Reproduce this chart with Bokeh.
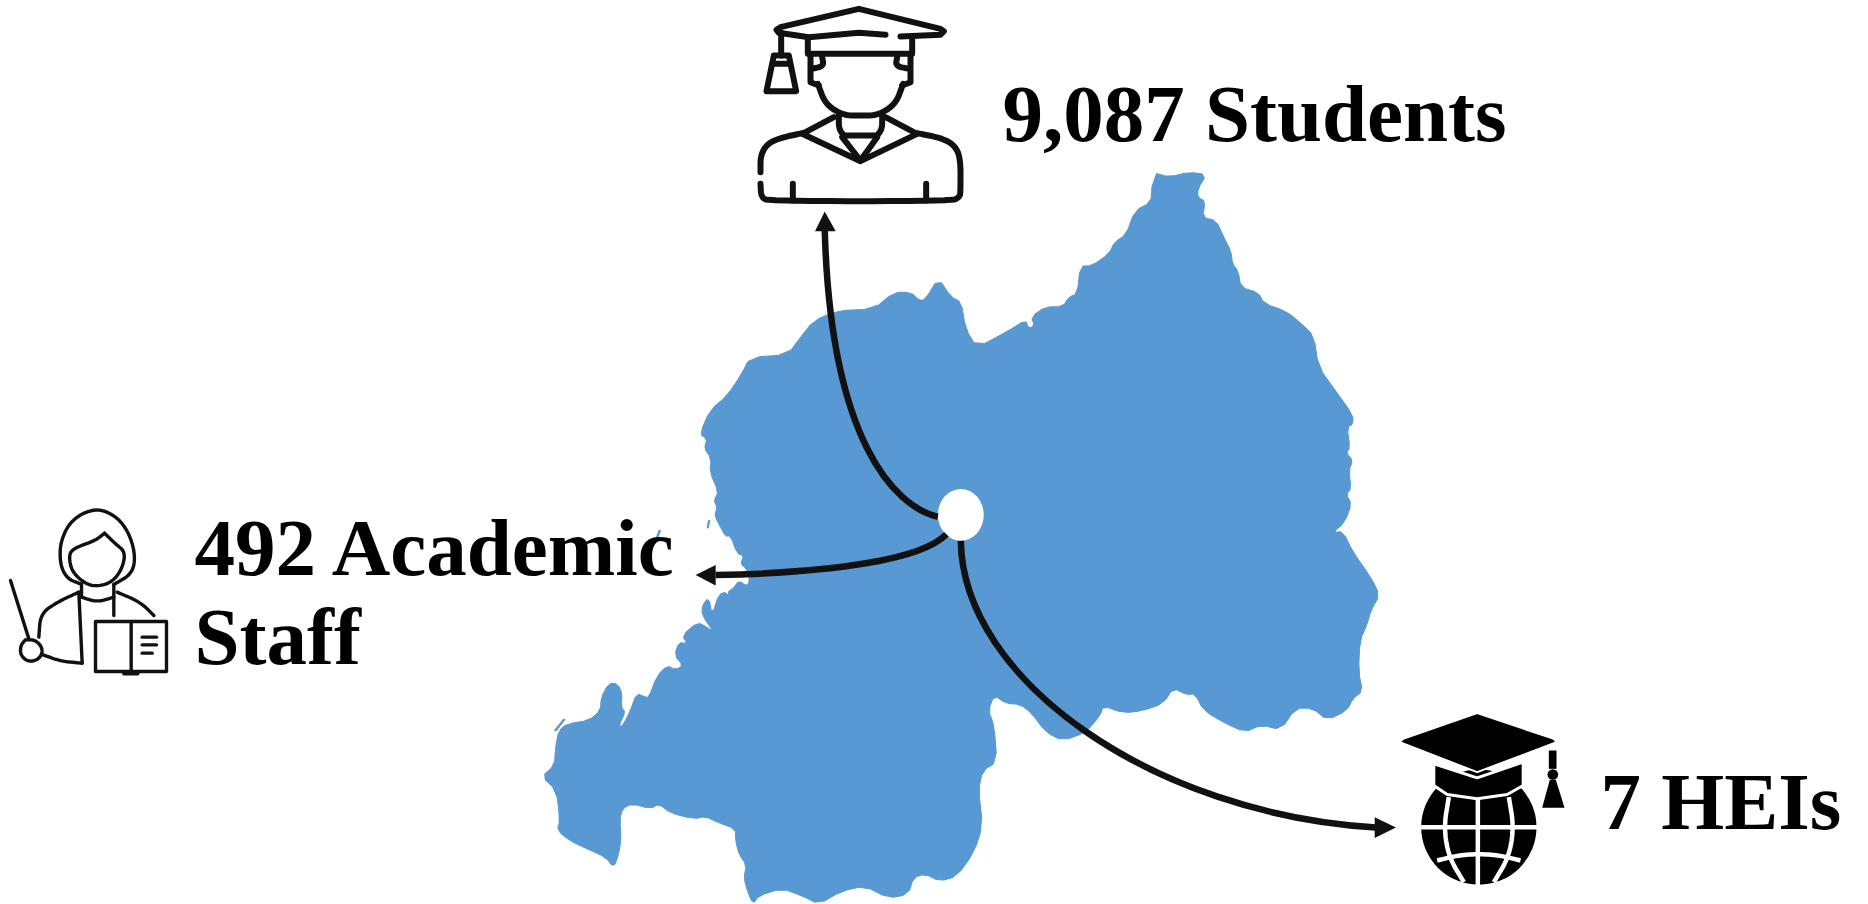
from bokeh.plotting import figure
from bokeh.models import Range1d
from bokeh.core.properties import value
from bokeh.embed import file_html
from bokeh.resources import INLINE

# ---- labels
label_text = ["9,087 Students", "492 Academic", "Staff", "7 HEIs"]
label_x = [1002, 194, 194, 1600]
label_y = [140, 574, 663, 828]

# ---- country outline
map_a_zx = [1108,1130,1165,1195,1180,1180,1193,1188,1212,1225,1238,1240,1250,1255,1285,1295,1335,1360,1382,1390,1420,1450,1450,1440,1445,1438,1450,1443,1447,1438,1448,1435,1415,1433,1450,1480,1497,1482,1475,1462,1460,1467,1450,1440,1405,1380,1350,1325,1290,1262,1225,1190,1175,1160,1137,1120,1085,1050,1015,1010,985,945,915,890,870,845,825,815,825,830,805,798,805,790,760,730,705,685,675,640,600,560,520,490,455,415,405]
map_a_zy = [48,55,45,50,80,98,105,140,145,180,210,235,250,285,295,318,335,360,385,450,500,550,570,575,620,628,645,665,705,715,735,775,795,792,835,885,925,955,985,1020,1085,1125,1140,1165,1185,1160,1160,1205,1195,1210,1190,1165,1130,1132,1118,1150,1165,1170,1155,1175,1210,1228,1210,1170,1152,1150,1133,1165,1195,1272,1290,1330,1405,1460,1510,1520,1505,1512,1548,1555,1530,1540,1568,1550,1535,1550,1568]
map_b_zx = [345,330,332,320,325,312,330,360,385,400,465,490,510,550,615,650,680,695,705,728,750,768,775,795,850,880,885,895,890,915,945,955,970,975,995,1025,1035,1055,1070,1098,1100]
map_b_zy = [710,670,640,620,600,590,540,510,465,430,425,385,355,333,330,295,295,312,310,265,305,315,370,410,375,352,370,365,345,325,325,305,298,240,240,215,190,175,125,108,75]
map_zoom_origin = (520, 150)
map_zoom_scale = (1.742, 2.08)

# west shore from the closer 3x crop
shore_origin = (530, 500)
shore_zx = [650,640,648,625,615,615,560,525,490,420,385,360,305,275,268,272,265,250,225,170,120,80,88,78,33,72,75,85,110,175,210,212,235,262,275,272,285,265,275,300,318,345,355,380,410,435,458,432,445,470,455,500,530,550,515,515,535,545,565,590,605,590,610,625,650,658,648,630,640,620,600,585,570,552,560,550]
shore_zy = [1170,1130,1095,1060,1020,985,965,948,955,938,910,925,910,925,960,1010,1060,1102,1070,1045,1022,990,960,870,828,795,740,690,670,660,630,590,548,550,580,620,635,675,678,630,578,590,590,525,495,508,495,465,425,430,405,365,380,395,345,315,290,345,280,275,310,275,262,240,258,235,205,190,165,160,105,108,80,45,20,0]
islet_zx = [[532,540,535,528],[385,392,382,375],[98,105,78,70]]
islet_zy = [[60,58,82,85],[88,90,115,113],[655,657,692,690]]

# ---- centre and curved arrows, same crop units as the outline
hub_z = (767, 758, 80, 108)
curves_z = [
    [(727,762),(650,740),(540,600),(530,165)],
    [(742,798),(700,850),(550,878),(340,883)],
    [(767,812),(770,1100),(1100,1380),(1490,1408)],
]
heads_zx = [[530,513,549],[305,340,340],[1525,1488,1488]]
heads_zy = [[127,168,168],[883,862,905],[1408,1387,1430]]

# ---- student icon (3x crop units)
student_origin = (730, 0)
student_curved = [
    [(275,170),(280,197),(243,205)],
    [(500,170),(495,197),(537,205)],
    [(262,250),(285,312),(340,345),(390,345),(440,345),(495,312),(518,250)],
    [(90,515),(90,465),(110,430),(150,412),(215,398)],
    [(560,398),(630,412),(670,432),(690,470),(690,570),(688,590),(660,602),(115,602),(92,590),(90,550)],
    [(325,345),(325,385),(340,405)],
    [(455,345),(455,385),(440,405)],
]
student_sharp = [
    [(465,103),(385,97),(235,110),(145,97),(138,88),(150,80),(385,25),(630,85),(640,92),(630,103),(510,108)],
    [(232,112),(232,160),(545,160),(545,112)],
    [(152,97),(152,165)],
    [(130,165),(175,165),(197,272),(108,272),(130,165)],
    [(130,190),(175,190)],
    [(240,165),(240,245),(265,255)],
    [(540,165),(540,245),(515,255)],
    [(340,405),(440,405)],
    [(310,350),(215,400),(390,482),(560,400),(465,350)],
    [(335,410),(390,480),(440,410)],
    [(187,550),(187,600)],
    [(587,550),(587,600)],
]

# ---- teacher icon (3x crop units)
teacher_origin = (0, 490)
teacher_curved = [
    [(240,280),(200,265),(178,220),(180,150),(215,85),(285,52),(345,75),(385,125),(405,195),(395,250),(340,282)],
    [(312,128),(285,150),(215,175),(205,200),(215,245),(255,280),(290,288),(335,275),(365,235),(375,185),(345,160),(312,128)],
    [(243,320),(290,335),(340,320)],
    [(235,305),(170,335),(120,370),(115,440)],
    [(350,305),(420,335),(460,375)],
    [(245,518),(180,512),(125,492)],
    [(75,448),(105,448),(128,475),(118,505),(85,515),(60,495),(60,465),(75,448)],
]
teacher_sharp = [
    [(243,280),(243,320)],
    [(340,282),(340,375)],
    [(235,305),(245,518)],
    [(30,270),(85,445)],
    [(285,393),(498,393),(498,543),(285,543),(285,393)],
    [(392,393),(392,548)],
    [(370,550),(412,550)],
    [(425,440),(468,440)],
    [(425,463),(468,463)],
    [(425,488),(455,488)],
]

# ---- HEI icon (3x crop units)
hei_origin = (1380, 700)
hei_globe = (295, 380, 173)
hei_grid = [
    [(115,380),(475,380)],
    [(292,280),(292,560)],
    [(205,290),(190,380),(205,470),(250,545)],
    [(385,290),(400,380),(385,470),(340,545)],
    [(170,480),(230,465),(295,460),(360,465),(420,480)],
]
hei_band = [(160,190),(290,232),(428,185),(428,255),(380,282),(290,295),(200,282),(160,255)]
hei_cap = [(58,125),(68,115),(290,38),(520,115),(528,125),(290,215)]
hei_string = [(505,150),(528,150),(528,205),(505,205)]
hei_knot = (517, 222, 16)
hei_bell = [(508,238),(526,238),(552,322),(485,322)]


def smooth(pts, n=3):
    for _ in range(n):
        out = [pts[0]]
        for (a, b), (c, d) in zip(pts[:-1], pts[1:]):
            out += [(.75*a+.25*c, .75*b+.25*d), (.25*a+.75*c, .25*b+.75*d)]
        out.append(pts[-1])
        pts = out
    return pts


def place(pts, origin, sx=3.0, sy=3.0):
    return ([origin[0] + x / sx for x, _ in pts], [origin[1] + y / sy for _, y in pts])


def map_place(xs, ys):
    return ([map_zoom_origin[0] + x / map_zoom_scale[0] for x in xs],
            [map_zoom_origin[1] + y / map_zoom_scale[1] for y in ys])


p = figure(width=1868, height=904, x_range=Range1d(0, 1868), y_range=Range1d(904, 0),
           output_backend="svg", toolbar_location=None, min_border=0)
p.axis.visible = False
p.grid.visible = False
p.outline_line_color = None
p.background_fill_color = "white"

BLUE = "#5899D3"
INK = "#111111"

# map
ax, ay = map_place(map_a_zx, map_a_zy)
sx = [shore_origin[0] + v / 3 for v in shore_zx]
sy = [shore_origin[1] + v / 3 for v in shore_zy]
bx, by = map_place(map_b_zx, map_b_zy)
outline = smooth(list(zip(ax + sx + bx, ay + sy + by)), 1)
p.patch([q[0] for q in outline], [q[1] for q in outline], fill_color=BLUE, line_color=BLUE,
        line_width=1, line_join="round")
for ix, iy in zip(islet_zx, islet_zy):
    p.patch([shore_origin[0] + v / 3 for v in ix], [shore_origin[1] + v / 3 for v in iy],
            fill_color=BLUE, line_color=None)

# hub
hx, hy = map_place([hub_z[0]], [hub_z[1]])
p.ellipse(hx, hy, width=hub_z[2] / map_zoom_scale[0], height=hub_z[3] / map_zoom_scale[1],
          fill_color="white", line_color=None)

# arrows
for c in curves_z:
    cx, cy = map_place([q[0] for q in c], [q[1] for q in c])
    p.bezier(x0=[cx[0]], y0=[cy[0]], cx0=[cx[1]], cy0=[cy[1]], cx1=[cx[2]], cy1=[cy[2]],
             x1=[cx[3]], y1=[cy[3]], line_color=INK, line_width=6.5)
for hxs, hys in zip(heads_zx, heads_zy):
    ax, ay = map_place(hxs, hys)
    p.patch(ax, ay, fill_color=INK, line_color=None)

# line icons
def strokes(curved, sharp, origin, width, color):
    xs, ys = [], []
    for s in curved:
        a, b = place(smooth(s), origin)
        xs.append(a); ys.append(b)
    for s in sharp:
        a, b = place(s, origin)
        xs.append(a); ys.append(b)
    p.multi_line(xs, ys, line_color=color, line_width=width, line_cap="round", line_join="round")

strokes(student_curved, student_sharp, student_origin, 6.0, INK)
strokes(teacher_curved, teacher_sharp, teacher_origin, 3.4, INK)

# solid icon
gx, gy = place([(hei_globe[0], hei_globe[1])], hei_origin)
p.circle(gx, gy, radius=hei_globe[2] / 3, fill_color="black", line_color=None)
xs, ys = [], []
for s in hei_grid:
    a, b = place(smooth(s) if len(s) > 2 else s, hei_origin)
    xs.append(a); ys.append(b)
p.multi_line(xs, ys, line_color="white", line_width=4.5)
a, b = place(hei_band, hei_origin)
p.patch(a, b, fill_color="black", line_color="white", line_width=3)
a, b = place(hei_cap, hei_origin)
p.patch(a, b, fill_color="black", line_color="white", line_width=2)
a, b = place(hei_string, hei_origin)
p.patch(a, b, fill_color="black", line_color=None)
kx, ky = place([(hei_knot[0], hei_knot[1])], hei_origin)
p.circle(kx, ky, radius=hei_knot[2] / 3, fill_color="black", line_color=None)
a, b = place(hei_bell, hei_origin)
p.patch(a, b, fill_color="black", line_color=None)

# labels
p.text(label_x, label_y, text=label_text, text_font=value("Liberation Serif"),
       text_font_style="bold", text_font_size="81px", text_color="black",
       text_align="left", text_baseline="alphabetic", y_offset=-27)

open("out.html", "w").write(file_html(p, INLINE))
